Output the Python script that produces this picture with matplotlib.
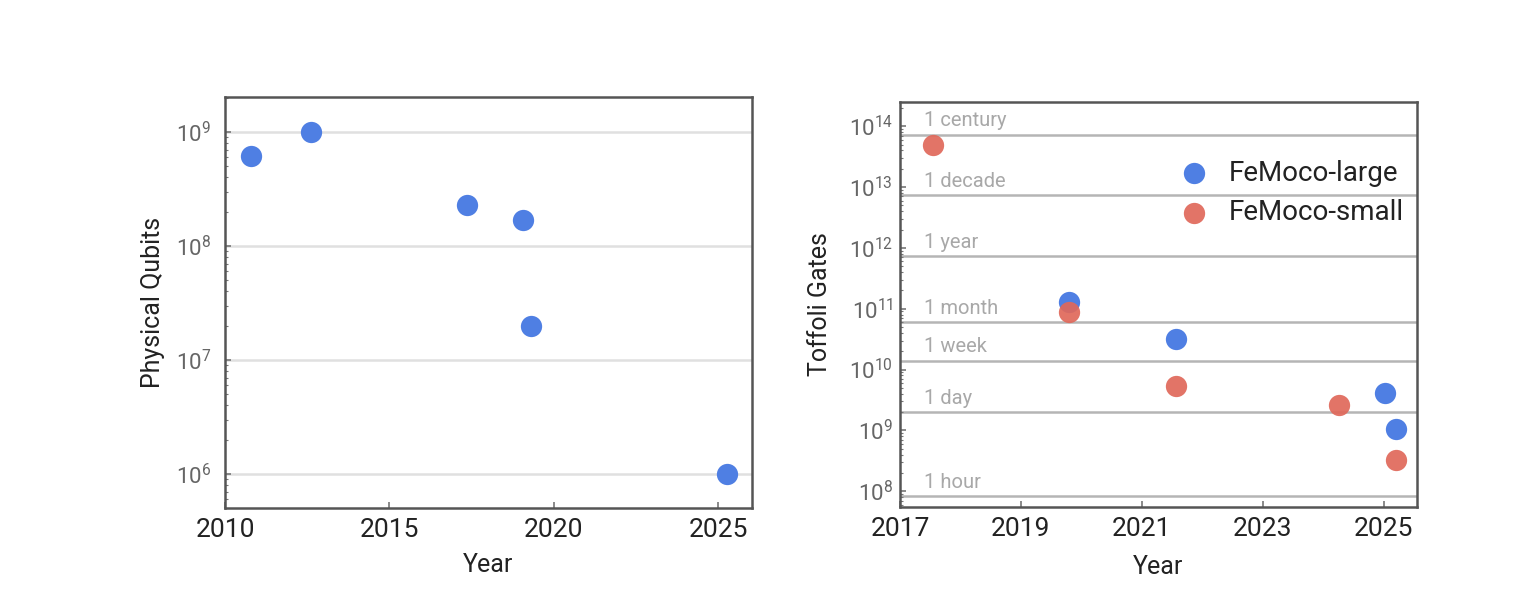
import matplotlib
matplotlib.use("Agg")
import matplotlib.pyplot as plt
from matplotlib.ticker import LogLocator, NullFormatter

plt.rcParams['font.family'] = ['Roboto', 'DejaVu Sans']
plt.rcParams['mathtext.fontset'] = 'custom'
plt.rcParams['mathtext.rm'] = 'Roboto'
plt.rcParams['mathtext.it'] = 'Roboto'

# ---- Left panel data: physical qubits ----
qubit_years = [2010.8, 2012.6, 2017.35, 2019.05, 2019.3, 2025.25]
qubit_counts = [6.2e8, 1.0e9, 2.3e8, 1.7e8, 2.0e7, 1.0e6]

# ---- Right panel data: Toffoli gates ----
large_years = [2019.8, 2021.56, 2025.02, 2025.2]
large_gates = [1.27e11, 3.2e10, 4.1e9, 1.05e9]
small_years = [2017.55, 2019.8, 2021.56, 2024.26, 2025.2]
small_gates = [5.0e13, 8.7e10, 5.4e9, 2.6e9, 3.2e8]

time_labels = ['1 hour', '1 day', '1 week', '1 month', '1 year', '1 decade', '1 century']
time_gates = [8.3e7, 2.0e9, 1.4e10, 6.0e10, 7.3e11, 7.3e12, 7.3e13]

left_xticks = [2010, 2015, 2020, 2025]
right_xticks = [2017, 2019, 2021, 2023, 2025]

BLUE = '#4f7fe3'
RED = '#e0685a'
SPINE = '#555555'

fig = plt.figure(figsize=(15.34, 6.12), dpi=100)

def style_axes(ax):
    for s in ax.spines.values():
        s.set_color(SPINE)
        s.set_linewidth(1.8)
    ax.tick_params(axis='both', which='both', direction='in', color='#777777')
    ax.tick_params(axis='both', which='major', length=4, width=1.2)
    ax.tick_params(axis='y', which='minor', length=2.5, width=0.8)
    ax.tick_params(axis='x', labelsize=19, colors='#777777', labelcolor='#222222', pad=7)
    ax.tick_params(axis='y', labelsize=16, labelcolor='#666666')
    ax.yaxis.set_minor_locator(LogLocator(base=10, subs=range(2, 10), numticks=20))
    ax.yaxis.set_minor_formatter(NullFormatter())

# Left
ax1 = fig.add_axes([225/1534, (612-508)/612, 527/1534, 411/612])
ax1.set_yscale('log')
ax1.set_xlim(2010, 2026.02)
ax1.set_ylim(5.03e5, 2.03e9)
ax1.grid(axis='y', which='major', color='#e0e0e0', linewidth=1.8)
ax1.set_axisbelow(True)
ax1.scatter(qubit_years, qubit_counts, s=235, color=BLUE, linewidths=0, zorder=3)
ax1.set_xticks(left_xticks)
ax1.yaxis.set_major_locator(LogLocator(base=10, numticks=10))
style_axes(ax1)
ax1.tick_params(axis='y', pad=10)
ax1.set_xlabel('Year', fontsize=18, color='#222222', labelpad=8)
ax1.set_ylabel('Physical Qubits', fontsize=18, color='#222222', labelpad=8)

# Right
ax2 = fig.add_axes([900/1534, (612-507)/612, 517/1534, 405/612])
ax2.set_yscale('log')
ax2.set_xlim(2017, 2025.55)
ax2.set_ylim(5.5e7, 2.5e14)
for lab, val in zip(time_labels, time_gates):
    ax2.axhline(val, color='#b5b5b5', linewidth=1.8, zorder=1)
    ax2.annotate(lab, xy=(2017.4, val), xytext=(0, 3), textcoords='offset points',
                 ha='left', va='bottom', fontsize=14.5, color='#a8a8a8', zorder=2)
ax2.scatter(large_years, large_gates, s=235, color=BLUE, linewidths=0, zorder=3, label='FeMoco-large')
ax2.scatter(small_years, small_gates, s=235, color=RED, linewidths=0, zorder=4, alpha=0.92, label='FeMoco-small')
ax2.set_xticks(right_xticks)
ax2.yaxis.set_major_locator(LogLocator(base=10, numticks=10))
style_axes(ax2)
ax2.tick_params(axis='y', pad=5)
ax2.set_xlabel('Year', fontsize=18, color='#222222', labelpad=10)
ax2.set_ylabel('Toffoli Gates', fontsize=18, color='#222222', labelpad=12)
ax2.legend(loc='upper right', bbox_to_anchor=(0.997, 0.885), frameon=False, fontsize=20,
           handletextpad=0.45, labelspacing=0.45, borderaxespad=0, scatterpoints=1,
           handlelength=1.6, labelcolor='#222222')

fig.savefig('out.png', dpi=100)
